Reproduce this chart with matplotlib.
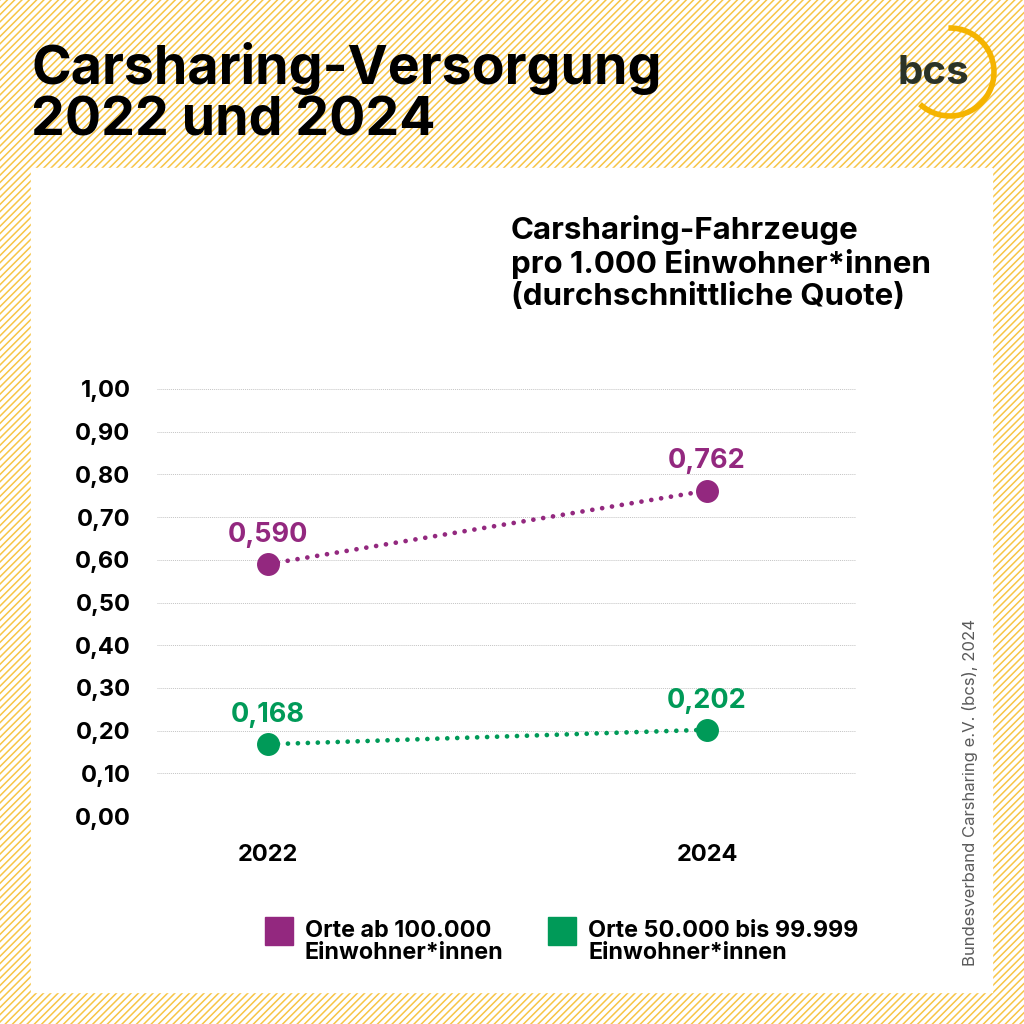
import matplotlib
matplotlib.use("Agg")
import matplotlib.pyplot as plt
from matplotlib.patches import Rectangle, Arc

plt.rcParams["font.family"] = ["Inter", "DejaVu Sans"]

# data
years = [2022, 2024]
big_cities = [0.590, 0.762]
mid_cities = [0.168, 0.202]
series_labels = ["Orte ab 100.000\nEinwohner*innen", "Orte 50.000 bis 99.999\nEinwohner*innen"]
series_colors = ["#93287F", "#009A58"]
yticks = [0.0, 0.1, 0.2, 0.3, 0.4, 0.5, 0.6, 0.7, 0.8, 0.9, 1.0]

HATCH = "#F7C546"
W = H = 1024

fig = plt.figure(figsize=(10.24, 10.24), dpi=100)

# background: hatched frame, white panel, titles (pixel coords, y up)
bg = fig.add_axes([0, 0, 1, 1], zorder=0)
bg.set_xlim(0, W)
bg.set_ylim(0, H)
bg.axis("off")
bg.add_patch(Rectangle((0, 0), W, H, color="white", zorder=0))
c = -W
while c < W:
    bg.plot([c, c + W], [0, H], color=HATCH, lw=1.1, zorder=1)
    c += 7.3
bg.add_patch(Rectangle((31, H - 992), 992 - 31, 992 - 168, color="white", zorder=2))

# multi-line texts: y is the baseline of the last line
bg.text(31, H - 135, "Carsharing-Versorgung\n2022 und 2024", fontsize=38.7, fontweight="bold",
        va="baseline", ha="left", linespacing=1.02, zorder=3)

# bcs logo
bg.text(898, H - 84, "bcs", fontsize=29, fontweight="bold", color="#2B3328",
        ha="left", va="baseline", zorder=3)
bg.add_patch(Arc((950, H - 72), 88, 88, theta1=-133, theta2=92, color="#F5B400", lw=4, zorder=3))

bg.text(511, H - 305, "Carsharing-Fahrzeuge\npro 1.000 Einwohner*innen\n(durchschnittliche Quote)",
        fontsize=22.5, fontweight="bold", ha="left", va="baseline", linespacing=1.17, zorder=3)

bg.text(970, H - 792, "Bundesverband Carsharing e.V. (bcs), 2024", rotation=90, fontsize=12,
        color="#5A5A5A", ha="center", va="center", zorder=3)

# legend
for i, (lab, col) in enumerate(zip(series_labels, series_colors)):
    x0 = [265, 548][i]
    bg.add_patch(Rectangle((x0, H - 945), 28, 28, color=col, zorder=3))
    bg.text(x0 + 40, H - 959, lab, fontsize=16.8, fontweight="bold", ha="left",
            va="baseline", linespacing=1.0, zorder=3)

# main chart
ax = fig.add_axes([157 / W, (H - 816) / H, (856 - 157) / W, (816 - 389) / H], zorder=2)
ax.patch.set_alpha(0)
ax.set_xlim(2022 - 111 / 219.5, 2024 + 149 / 219.5)
ax.set_ylim(0, 1.0)

for vals, col in zip([big_cities, mid_cities], series_colors):
    ax.plot(years, vals, color=col, lw=3.4, linestyle=(0, (0.01, 2.1)),
            dash_capstyle="round", clip_on=False, zorder=3)
    ax.plot(years, vals, "o", color=col, ms=15.5, clip_on=False, zorder=4)
    for x, v in zip(years, vals):
        ax.annotate(f"{v:.3f}".replace(".", ","), (x, v), xytext=(0, 16), textcoords="offset points",
                    ha="center", va="baseline", fontsize=19.5, fontweight="bold", color=col)

ax.set_yticks(yticks)
ax.set_yticklabels([f"{t:.2f}".replace(".", ",") for t in yticks], fontsize=17, fontweight="bold")
ax.set_xticks(years)
ax.set_xticklabels([str(y) for y in years], fontsize=17, fontweight="bold")
ax.tick_params(length=0)
ax.tick_params(axis="y", pad=19)
ax.tick_params(axis="x", pad=20)
ax.grid(axis="y", color="#C4C4C4", lw=0.7, linestyle=(0, (1, 1)))
ax.grid(axis="x", visible=False)
for s in ax.spines.values():
    s.set_visible(False)

fig.savefig("out.png", dpi=100)
